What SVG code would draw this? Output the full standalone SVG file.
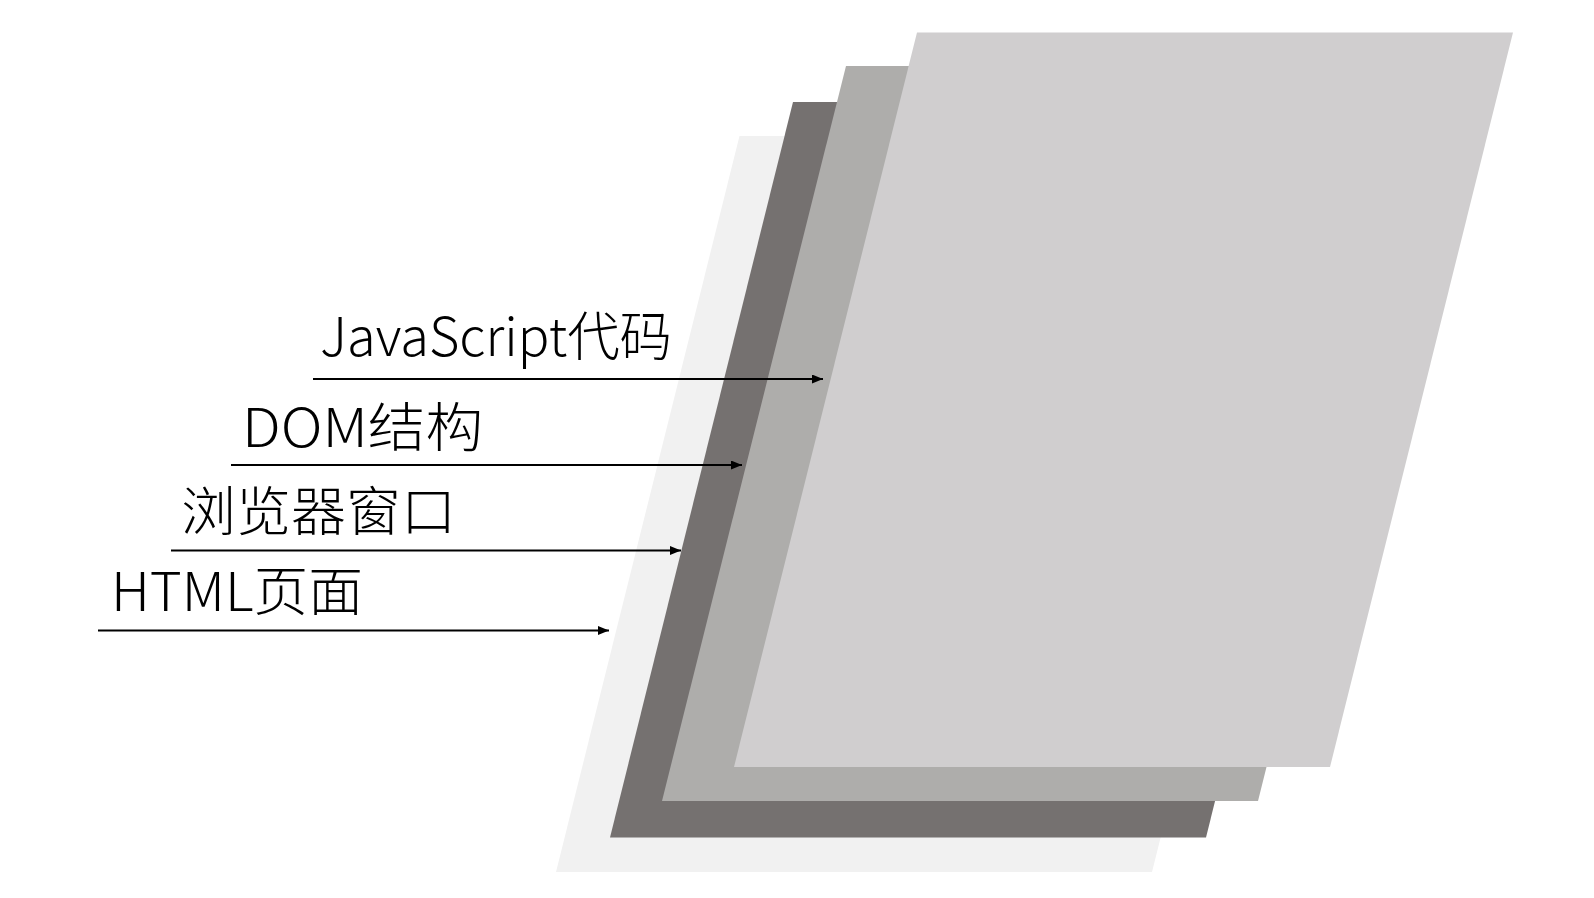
<svg xmlns="http://www.w3.org/2000/svg" width="1594" height="898" viewBox="0 0 1594 898">
<style>
.lbl{font-family:"Noto Sans CJK SC","Liberation Sans",sans-serif;font-size:53px;font-weight:300;fill:#000}
.arr{stroke:#000;stroke-width:1.8;fill:none}
</style>
<defs>
<marker id="ah" markerUnits="userSpaceOnUse" markerWidth="12" markerHeight="10" refX="11" refY="4.5" orient="auto">
<path d="M0,0 L11,4.5 L0,9 z" fill="#000"/>
</marker>
</defs>
<rect width="1594" height="898" fill="#fff"/>
<g id="layer-html"><polygon points="739.5,136 1335.5,136 1152,872 556,872" fill="#f1f1f1"/></g>
<g id="layer-window"><polygon points="793,102 1389,102 1206,837.5 610,837.5" fill="#757170"/></g>
<g id="layer-dom"><polygon points="846,66 1442,66 1258,801 662,801" fill="#aeadab"/></g>
<g id="layer-js"><polygon points="917,32.5 1513,32.5 1330,767 734,767" fill="#d0cecf"/></g>
<g id="connectors">
<line class="arr" x1="313" y1="379" x2="823" y2="379" marker-end="url(#ah)"/>
<line class="arr" x1="231" y1="465" x2="742" y2="465" marker-end="url(#ah)"/>
<line class="arr" x1="171" y1="550.5" x2="681" y2="550.5" marker-end="url(#ah)"/>
<line class="arr" x1="98" y1="630.5" x2="609" y2="630.5" marker-end="url(#ah)"/>
</g>
<g id="label-js"><text class="lbl" x="320" y="356" textLength="352" lengthAdjust="spacingAndGlyphs">JavaScript代码</text></g>
<g id="label-dom"><text class="lbl" x="242" y="447" textLength="241" lengthAdjust="spacingAndGlyphs">DOM结构</text></g>
<g id="label-window"><text class="lbl" x="181" y="531" textLength="275" lengthAdjust="spacingAndGlyphs">浏览器窗口</text></g>
<g id="label-html"><text class="lbl" x="111" y="611" textLength="252" lengthAdjust="spacingAndGlyphs">HTML页面</text></g>
</svg>
